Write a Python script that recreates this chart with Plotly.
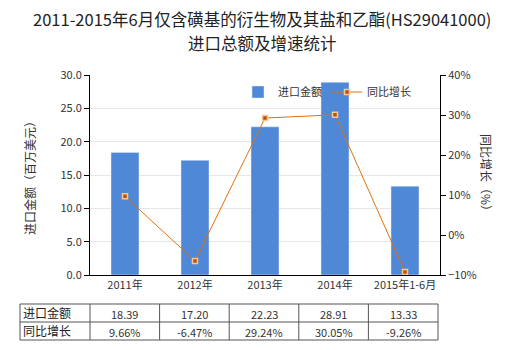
import plotly.graph_objects as go

categories = ["2011年", "2012年", "2013年", "2014年", "2015年1-6月"]
import_values = [18.39, 17.20, 22.23, 28.91, 13.33]
growth_values = [9.66, -6.47, 29.24, 30.05, -9.26]
row_labels = ["进口金额", "同比增长"]
title_lines = ["2011-2015年6月仅含磺基的衍生物及其盐和乙酯(HS29041000)", "进口总额及增速统计"]

FONT = "Noto Sans CJK SC, Microsoft YaHei, sans-serif"
W, H = 520, 350
L, R, T, B = 90, 80, 75, 75

fig = go.Figure()
fig.add_trace(go.Bar(
    x=categories, y=import_values, name=row_labels[0],
    marker=dict(color="#4f88d6"), width=0.4, yaxis="y",
))
fig.add_trace(go.Scatter(
    x=categories, y=growth_values, name=row_labels[1], yaxis="y2",
    mode="lines+markers",
    line=dict(color="#e0700f", width=1),
    marker=dict(symbol="square", size=5, color="#c0500c",
                line=dict(color="#f5c890", width=1.5)),
))

pw = W - L - R
ph = H - T - B
def px_x(x):
    return (x - L) / pw
def px_y(y):
    return (H - B - y) / ph

fig.update_layout(
    width=W, height=H,
    margin=dict(l=L, r=R, t=T, b=B),
    paper_bgcolor="white", plot_bgcolor="white",
    font=dict(family=FONT, size=11, color="#333"),
    showlegend=True,
    legend=dict(orientation="h", x=px_x(238), xanchor="left", y=px_y(92), yanchor="middle",
                font=dict(size=11, color="#333"), bgcolor="rgba(0,0,0,0)",
                tracegroupgap=0),
    xaxis=dict(showline=True, linecolor="#000", linewidth=1, ticks="",
               showgrid=False, tickfont=dict(size=11, color="#333")),
    yaxis=dict(range=[0, 30], dtick=5, tickformat=".1f", showline=True,
               linecolor="#000", linewidth=1, ticks="outside", ticklen=5,
               tickcolor="#000", showgrid=True, gridcolor="#e6e6e6",
               zeroline=False, tickfont=dict(size=11, color="#333")),
    yaxis2=dict(range=[-10, 40], dtick=10, ticksuffix="%", overlaying="y",
                side="right", showline=True, linecolor="#000", linewidth=1,
                ticks="outside", ticklen=5, tickcolor="#000", showgrid=False,
                zeroline=False, tickfont=dict(size=11, color="#333")),
)

# Title lines
for i, line in enumerate(title_lines):
    fig.add_annotation(text=line, xref="paper", yref="paper",
                       x=px_x(W / 2 + 2), xanchor="center", y=px_y(19 + 24 * i),
                       yanchor="middle", showarrow=False,
                       font=dict(size=16.5, color="#222"))

# Axis titles
fig.add_annotation(text="进口金额（百万美元）", xref="paper", yref="paper",
                   x=px_x(29), xanchor="center", y=0.5, yanchor="middle",
                   showarrow=False, textangle=-90, font=dict(size=12, color="#333"))
fig.add_annotation(text="同比增长（%）", xref="paper", yref="paper",
                   x=px_x(487), xanchor="center", y=0.5, yanchor="middle",
                   showarrow=False, textangle=90, font=dict(size=12, color="#333"))

# Data table below the chart
tx0, tx1 = 20, 438
ty0, ty1, ty2 = 304, 322, 340
col_w = (tx1 - L) / len(categories)
col_edges = [tx0, L] + [L + col_w * (i + 1) for i in range(len(categories))]
line_style = dict(color="#555", width=1)
for y in (ty0, ty1, ty2):
    fig.add_shape(type="line", xref="paper", yref="paper",
                  x0=px_x(tx0), x1=px_x(tx1), y0=px_y(y), y1=px_y(y), line=line_style)
for x in col_edges:
    fig.add_shape(type="line", xref="paper", yref="paper",
                  x0=px_x(x), x1=px_x(x), y0=px_y(ty0), y1=px_y(ty2), line=line_style)

rows = [[f"{v:.2f}" for v in import_values], [f"{v:.2f}%" for v in growth_values]]
for r, (label, vals) in enumerate(zip(row_labels, rows)):
    yc = ty0 + 9 + 18 * r
    fig.add_annotation(text=label, xref="paper", yref="paper", x=px_x(tx0 + 1),
                       xanchor="left", y=px_y(yc - 1), yanchor="middle",
                       showarrow=False, font=dict(size=12, color="#222"))
    for i, v in enumerate(vals):
        xc = L + col_w * (i + 0.5)
        fig.add_annotation(text=v, xref="paper", yref="paper", x=px_x(xc),
                           xanchor="center", y=px_y(yc + 1), yanchor="middle",
                           showarrow=False, font=dict(size=11, color="#333"))

fig.write_html("out.html")
